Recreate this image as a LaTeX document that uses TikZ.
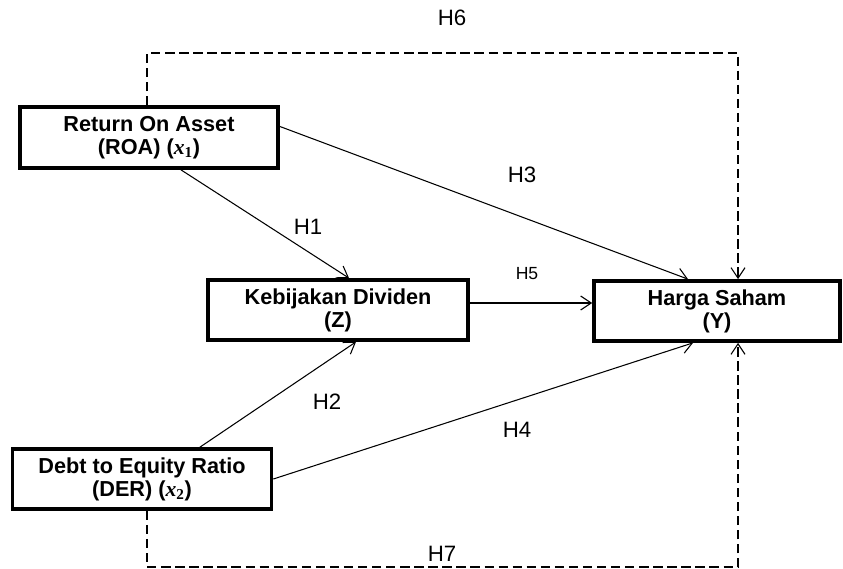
\documentclass[tikz,border=0pt]{standalone}
\usepackage{xcolor}
\usepackage{fontspec}
\setmainfont{Liberation Sans}
\newfontfamily\mathxfont{Liberation Serif}
\newcommand{\varx}[1]{{\mathxfont\bfseries\itshape x}\textsubscript{\mathxfont\bfseries #1}}
\usepackage{tikz}
\usetikzlibrary{
  positioning,
  calc,
  arrows.meta
}

\begin{document}
\begin{tikzpicture}[x=0.03cm,y=-0.03cm,
  var/.style={draw,line width=3.2pt,align=center,font=\bfseries\fontsize{18.5}{19.5}\selectfont,inner sep=0pt},
  path/.style={line width=0.9pt,-{Straight Barb[length=9pt,width=12pt]}},
  dline/.style={line width=0.9pt,dash pattern=on 8pt off 4pt,-{Straight Barb[length=9pt,width=12pt]}},
  hlabel/.style={font=\fontsize{19}{21}\selectfont}]
  \useasboundingbox (0,0) rectangle (843,569);

  % 変数のボックス
  \node[var,minimum width=7.74cm,minimum height=1.83cm] (roa) at (149,137.5) {Return On Asset\\(ROA) (\varx{1})};
  \node[var,minimum width=7.8cm,minimum height=1.8cm] (div) at (338,310) {Kebijakan Dividen\\(Z)};
  \node[var,minimum width=7.38cm,minimum height=1.8cm] (harga) at (717,311) {Harga Saham\\(Y)};
  \node[var,minimum width=7.77cm,minimum height=1.8cm] (der) at (142,479) {Debt to Equity Ratio\\(DER) (\varx{2})};

  % 直接の経路
  \draw[path] (roa.south -| 181,0) -- (div.north -| 349,0);
  \draw[path] (der.north -| 200,0) -- (div.south -| 356,0);
  \draw[path] ($(roa.north east)!0.33!(roa.south east)$) -- (harga.north -| 688,0);
  \draw[path] (der.east) -- (harga.south -| 693,0);
  \draw[path] (div.east |- 0,303) -- (harga.west |- 0,303);

  % 破線の経路
  \coordinate (l6) at (147,53);
  \coordinate (r6) at (738,53);
  \coordinate (l7) at (147,567);
  \coordinate (r7) at (738,567);
  \draw[dline] (roa.north -| l6) -- (l6) -- (r6) -- (harga.north -| r6);
  \draw[dline] (der.south -| l7) -- (l7) -- (r7) -- (harga.south -| r7);

  % ラベル
  \node[hlabel] (h1) at (308,227) {H1};
  \node[hlabel] (h2) at (327,402) {H2};
  \node[hlabel] (h3) at (522,175) {H3};
  \node[hlabel] (h4) at (517,430) {H4};
  \node[font=\fontsize{15}{17}\selectfont] (h5) at (527,274) {H5};
  \node[hlabel] (h6) at (452,18) {H6};
  \node[hlabel] (h7) at (442,554) {H7};
\end{tikzpicture}
\end{document}
